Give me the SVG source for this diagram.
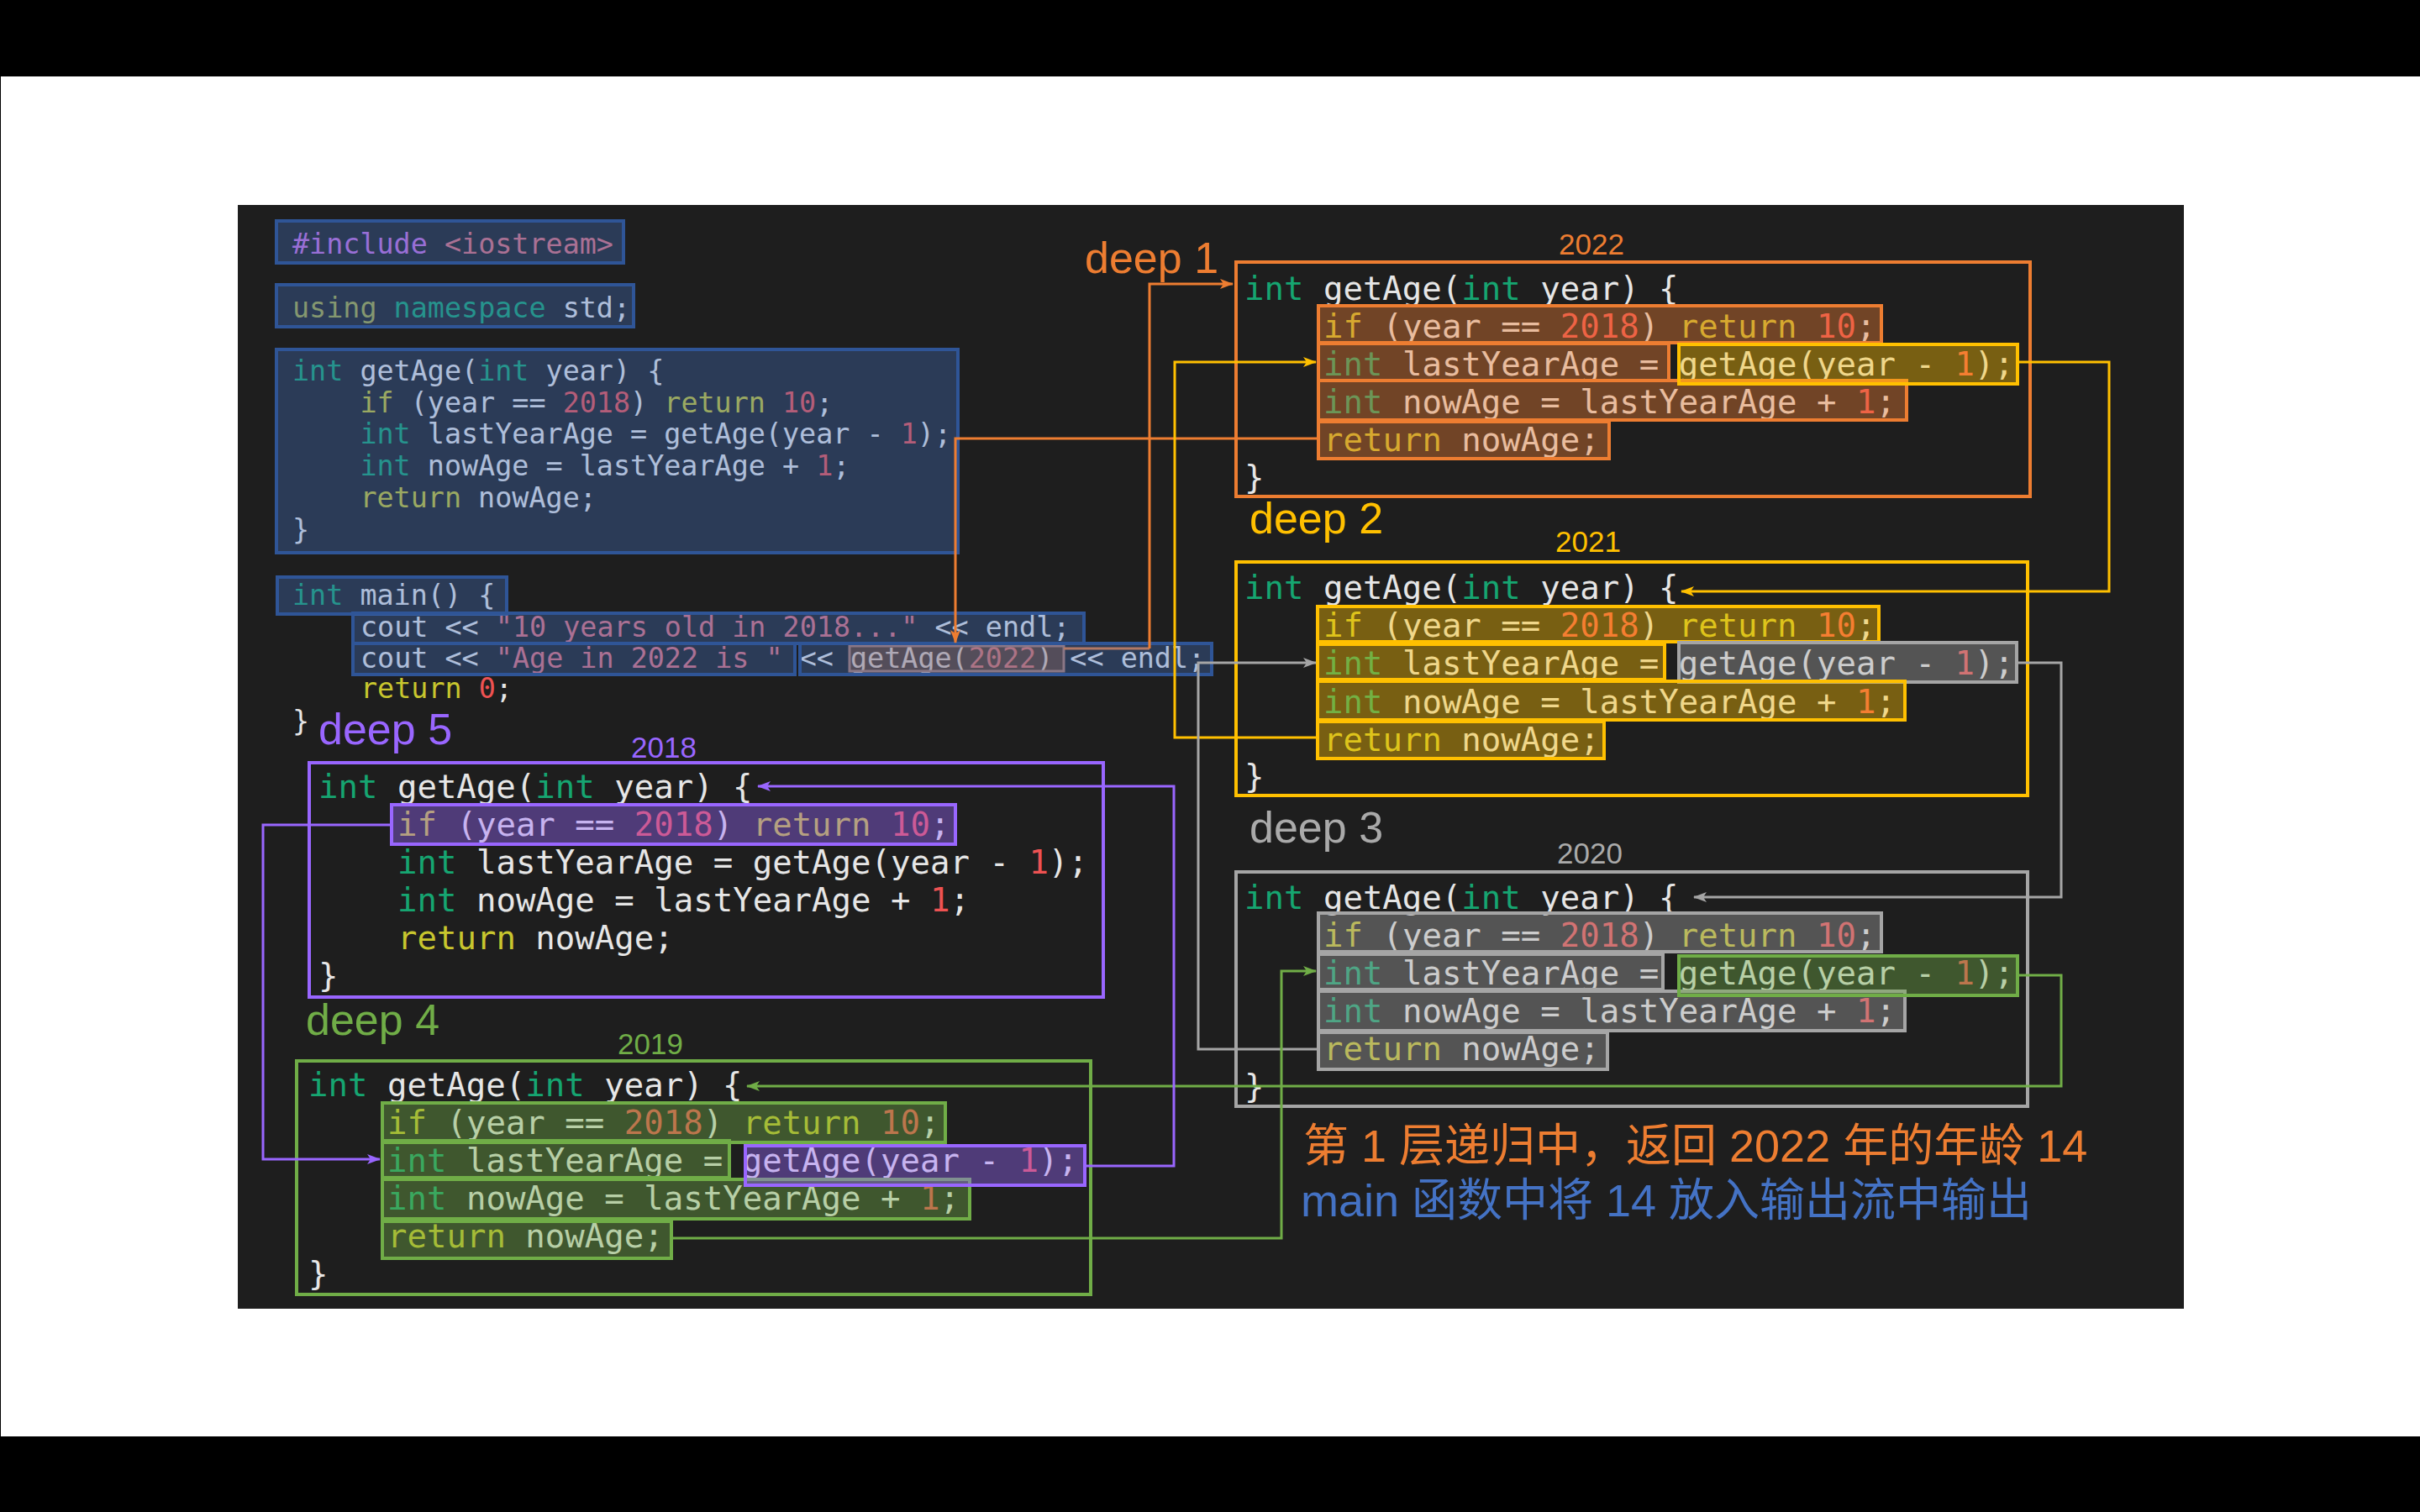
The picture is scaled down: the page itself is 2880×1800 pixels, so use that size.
<svg xmlns="http://www.w3.org/2000/svg" width="2880" height="1800" viewBox="0 0 2880 1800" xml:space="preserve">
<style>
.code{font-family:"DejaVu Sans Mono","Liberation Mono",monospace}
.m{font-size:33.4px}
.d{font-size:39px}
.k{fill:#16a571}
.i{fill:#e6e6e6}
.f{fill:#c8c62e}
.u{fill:#a6ab44}
.n{fill:#ee5252}
.s{fill:#e0707c}
.pp{fill:#c76ee0}
.lbl{font-family:"Liberation Sans",Arial,sans-serif;font-size:52px}
.yr{font-family:"Liberation Sans",Arial,sans-serif;font-size:35px}
.cn{font-family:"Liberation Sans","Noto Sans CJK SC",sans-serif;font-size:54px}
.ob{fill:none;stroke-width:4}
.hl{stroke-width:4}
.h-o{fill:rgba(237,125,49,.4);stroke:#ed7d31}
.h-y{fill:rgba(255,192,0,.4);stroke:#ffc000}
.h-g{fill:rgba(165,165,165,.4);stroke:#a5a5a5}
.h-gr{fill:rgba(112,173,71,.4);stroke:#70ad47}
.h-p{fill:rgba(153,102,255,.4);stroke:#9966ff}
.h-b{fill:rgba(68,114,196,.35);stroke:#2f5597}
.h-call{fill:rgba(237,125,49,.3);stroke:#b07a66;stroke-width:3}
.s-o{stroke:#ed7d31}.s-y{stroke:#ffc000}.s-g{stroke:#a5a5a5}.s-gr{stroke:#70ad47}.s-p{stroke:#9966ff}
.t-o{fill:#ed7d31}.t-y{fill:#ffc000}.t-g{fill:#aaaaaa}.t-gr{fill:#70ad47}.t-p{fill:#9966ff}.t-b{fill:#4472c4}
.conn path{fill:none;stroke-width:3}
</style>
<defs>
<marker id="ah-o" markerUnits="userSpaceOnUse" markerWidth="16" markerHeight="12" refX="15" refY="6" orient="auto"><path d="M0,0 L16,6 L0,12 L4,6 Z" fill="#ed7d31"/></marker>
<marker id="ah-y" markerUnits="userSpaceOnUse" markerWidth="16" markerHeight="12" refX="15" refY="6" orient="auto"><path d="M0,0 L16,6 L0,12 L4,6 Z" fill="#ffc000"/></marker>
<marker id="ah-g" markerUnits="userSpaceOnUse" markerWidth="16" markerHeight="12" refX="15" refY="6" orient="auto"><path d="M0,0 L16,6 L0,12 L4,6 Z" fill="#a5a5a5"/></marker>
<marker id="ah-gr" markerUnits="userSpaceOnUse" markerWidth="16" markerHeight="12" refX="15" refY="6" orient="auto"><path d="M0,0 L16,6 L0,12 L4,6 Z" fill="#70ad47"/></marker>
<marker id="ah-p" markerUnits="userSpaceOnUse" markerWidth="16" markerHeight="12" refX="15" refY="6" orient="auto"><path d="M0,0 L16,6 L0,12 L4,6 Z" fill="#9966ff"/></marker>
</defs>
<rect x="0" y="0" width="2880" height="1800" fill="#ffffff"/>
<rect x="0" y="0" width="2880" height="91" fill="#000000"/>
<rect x="0" y="1710" width="2880" height="90" fill="#000000"/>
<rect x="0" y="91" width="1" height="1619" fill="#000000"/>
<rect id="panel" x="283" y="244" width="2316" height="1314" fill="#1e1e1e"/>

<g id="main-code">
<text class="code m" x="348" y="302"><tspan class="pp">#include</tspan><tspan class="s"> &lt;iostream&gt;</tspan></text>
<text class="code m" x="348" y="378"><tspan class="u">using</tspan><tspan class="k"> namespace</tspan><tspan class="i"> std;</tspan></text>
<text class="code m" x="348" y="453"><tspan class="k">int</tspan><tspan class="i"> getAge(</tspan><tspan class="k">int</tspan><tspan class="i"> year) {</tspan></text>
<text class="code m" x="428.4" y="491"><tspan class="f">if</tspan><tspan class="i"> (year == </tspan><tspan class="n">2018</tspan><tspan class="i">) </tspan><tspan class="f">return</tspan><tspan class="i"> </tspan><tspan class="n">10</tspan><tspan class="i">;</tspan></text>
<text class="code m" x="428.4" y="528"><tspan class="k">int</tspan><tspan class="i"> lastYearAge = getAge(year - </tspan><tspan class="n">1</tspan><tspan class="i">);</tspan></text>
<text class="code m" x="428.4" y="566"><tspan class="k">int</tspan><tspan class="i"> nowAge = lastYearAge + </tspan><tspan class="n">1</tspan><tspan class="i">;</tspan></text>
<text class="code m" x="428.4" y="604"><tspan class="f">return</tspan><tspan class="i"> nowAge;</tspan></text>
<text class="code m i" x="348" y="642">}</text>
<text class="code m" x="348" y="720"><tspan class="k">int</tspan><tspan class="i"> main() {</tspan></text>
<text class="code m" x="429" y="758"><tspan class="i">cout &lt;&lt; </tspan><tspan class="s">"10 years old in 2018..."</tspan><tspan class="i"> &lt;&lt; endl;</tspan></text>
<text class="code m" x="429" y="795"><tspan class="i">cout &lt;&lt; </tspan><tspan class="s">"Age in 2022 is "</tspan><tspan class="i"> &lt;&lt; getAge(</tspan><tspan class="s">2022</tspan><tspan class="i">) &lt;&lt; endl;</tspan></text>
<text class="code m" x="429" y="831"><tspan class="f">return</tspan><tspan class="i"> </tspan><tspan class="n">0</tspan><tspan class="i">;</tspan></text>
<text class="code m i" x="348" y="870">}</text>
<rect class="hl h-b" x="329" y="263" width="413" height="50"/>
<rect class="hl h-b" x="329" y="339" width="425" height="50"/>
<rect class="hl h-b" x="329" y="416" width="811" height="242"/>
<rect class="hl h-b" x="330" y="687" width="273" height="44"/>
<rect class="hl h-b" x="420" y="730" width="870" height="36"/>
<rect class="hl h-call" x="1011" y="769" width="255" height="30"/>
<rect class="hl h-b" x="420" y="766" width="526" height="37"/>
<rect class="hl h-b" x="952" y="766" width="490" height="37"/>
</g>

<g id="deep1">
<text class="lbl t-o" x="1291" y="325">deep 1</text>
<text class="yr t-o" x="1855" y="303">2022</text>
<rect class="ob s-o" x="1471" y="312" width="945" height="279"/>
<text class="code d" x="1481" y="357"><tspan class="k">int</tspan><tspan class="i"> getAge(</tspan><tspan class="k">int</tspan><tspan class="i"> year) {</tspan></text>
<text class="code d" x="1575" y="402"><tspan class="f">if</tspan><tspan class="i"> (year == </tspan><tspan class="n">2018</tspan><tspan class="i">) </tspan><tspan class="f">return</tspan><tspan class="i"> </tspan><tspan class="n">10</tspan><tspan class="i">;</tspan></text>
<text class="code d" x="1575" y="447"><tspan class="k">int</tspan><tspan class="i"> lastYearAge = getAge(year - </tspan><tspan class="n">1</tspan><tspan class="i">);</tspan></text>
<text class="code d" x="1575" y="492"><tspan class="k">int</tspan><tspan class="i"> nowAge = lastYearAge + </tspan><tspan class="n">1</tspan><tspan class="i">;</tspan></text>
<text class="code d" x="1575" y="537"><tspan class="f">return</tspan><tspan class="i"> nowAge;</tspan></text>
<text class="code d i" x="1481" y="582">}</text>
<rect class="hl h-o" x="1569" y="364" width="670" height="44"/>
<rect class="hl h-o" x="1569" y="409" width="417" height="44"/>
<rect class="hl h-o" x="1569" y="453" width="700" height="47"/>
<rect class="hl h-o" x="1569" y="502" width="346" height="44"/>
<rect class="hl h-y" x="1998" y="410" width="403" height="47"/>
</g>

<g id="deep2">
<text class="lbl t-y" x="1487" y="635">deep 2</text>
<text class="yr t-y" x="1851" y="657">2021</text>
<rect class="ob s-y" x="1471" y="669" width="942" height="278"/>
<text class="code d" x="1481" y="713"><tspan class="k">int</tspan><tspan class="i"> getAge(</tspan><tspan class="k">int</tspan><tspan class="i"> year) {</tspan></text>
<text class="code d" x="1575" y="758"><tspan class="f">if</tspan><tspan class="i"> (year == </tspan><tspan class="n">2018</tspan><tspan class="i">) </tspan><tspan class="f">return</tspan><tspan class="i"> </tspan><tspan class="n">10</tspan><tspan class="i">;</tspan></text>
<text class="code d" x="1575" y="803"><tspan class="k">int</tspan><tspan class="i"> lastYearAge = getAge(year - </tspan><tspan class="n">1</tspan><tspan class="i">);</tspan></text>
<text class="code d" x="1575" y="849"><tspan class="k">int</tspan><tspan class="i"> nowAge = lastYearAge + </tspan><tspan class="n">1</tspan><tspan class="i">;</tspan></text>
<text class="code d" x="1575" y="894"><tspan class="f">return</tspan><tspan class="i"> nowAge;</tspan></text>
<text class="code d i" x="1481" y="938">}</text>
<rect class="hl h-y" x="1568" y="722" width="668" height="42"/>
<rect class="hl h-y" x="1568" y="767" width="413" height="42"/>
<rect class="hl h-g" x="1998" y="765" width="402" height="47"/>
<rect class="hl h-y" x="1568" y="811" width="699" height="46"/>
<rect class="hl h-y" x="1568" y="859" width="341" height="44"/>
</g>

<g id="deep3">
<text class="lbl t-g" x="1487" y="1003">deep 3</text>
<text class="yr t-g" x="1853" y="1028">2020</text>
<rect class="ob s-g" x="1471" y="1038" width="942" height="279"/>
<text class="code d" x="1481" y="1082"><tspan class="k">int</tspan><tspan class="i"> getAge(</tspan><tspan class="k">int</tspan><tspan class="i"> year) {</tspan></text>
<text class="code d" x="1575" y="1127"><tspan class="f">if</tspan><tspan class="i"> (year == </tspan><tspan class="n">2018</tspan><tspan class="i">) </tspan><tspan class="f">return</tspan><tspan class="i"> </tspan><tspan class="n">10</tspan><tspan class="i">;</tspan></text>
<text class="code d" x="1575" y="1172"><tspan class="k">int</tspan><tspan class="i"> lastYearAge = getAge(year - </tspan><tspan class="n">1</tspan><tspan class="i">);</tspan></text>
<text class="code d" x="1575" y="1217"><tspan class="k">int</tspan><tspan class="i"> nowAge = lastYearAge + </tspan><tspan class="n">1</tspan><tspan class="i">;</tspan></text>
<text class="code d" x="1575" y="1262"><tspan class="f">return</tspan><tspan class="i"> nowAge;</tspan></text>
<text class="code d i" x="1481" y="1307">}</text>
<rect class="hl h-g" x="1569" y="1087" width="670" height="46"/>
<rect class="hl h-g" x="1569" y="1136" width="410" height="42"/>
<rect class="hl h-g" x="1569" y="1180" width="698" height="47"/>
<rect class="hl h-g" x="1569" y="1229" width="344" height="44"/>
<rect class="hl h-gr" x="1998" y="1138" width="403" height="47"/>
</g>

<g id="deep5">
<text class="lbl t-p" x="379" y="886">deep 5</text>
<text class="yr t-p" x="751" y="902">2018</text>
<rect class="ob s-p" x="368" y="908" width="945" height="279"/>
<text class="code d" x="379" y="950"><tspan class="k">int</tspan><tspan class="i"> getAge(</tspan><tspan class="k">int</tspan><tspan class="i"> year) {</tspan></text>
<text class="code d" x="473" y="995"><tspan class="f">if</tspan><tspan class="i"> (year == </tspan><tspan class="n">2018</tspan><tspan class="i">) </tspan><tspan class="f">return</tspan><tspan class="i"> </tspan><tspan class="n">10</tspan><tspan class="i">;</tspan></text>
<text class="code d" x="473" y="1040"><tspan class="k">int</tspan><tspan class="i"> lastYearAge = getAge(year - </tspan><tspan class="n">1</tspan><tspan class="i">);</tspan></text>
<text class="code d" x="473" y="1085"><tspan class="k">int</tspan><tspan class="i"> nowAge = lastYearAge + </tspan><tspan class="n">1</tspan><tspan class="i">;</tspan></text>
<text class="code d" x="473" y="1130"><tspan class="f">return</tspan><tspan class="i"> nowAge;</tspan></text>
<text class="code d i" x="379" y="1175">}</text>
<rect class="hl h-p" x="466" y="958" width="671" height="47"/>
</g>

<g id="deep4">
<text class="lbl t-gr" x="364" y="1232">deep 4</text>
<text class="yr t-gr" x="735" y="1255">2019</text>
<rect class="ob s-gr" x="353" y="1263" width="945" height="278"/>
<text class="code d" x="367" y="1305"><tspan class="k">int</tspan><tspan class="i"> getAge(</tspan><tspan class="k">int</tspan><tspan class="i"> year) {</tspan></text>
<text class="code d" x="461" y="1350"><tspan class="f">if</tspan><tspan class="i"> (year == </tspan><tspan class="n">2018</tspan><tspan class="i">) </tspan><tspan class="f">return</tspan><tspan class="i"> </tspan><tspan class="n">10</tspan><tspan class="i">;</tspan></text>
<text class="code d" x="461" y="1395"><tspan class="k">int</tspan><tspan class="i"> lastYearAge = getAge(year - </tspan><tspan class="n">1</tspan><tspan class="i">);</tspan></text>
<text class="code d" x="461" y="1440"><tspan class="k">int</tspan><tspan class="i"> nowAge = lastYearAge + </tspan><tspan class="n">1</tspan><tspan class="i">;</tspan></text>
<text class="code d" x="461" y="1485"><tspan class="f">return</tspan><tspan class="i"> nowAge;</tspan></text>
<text class="code d i" x="367" y="1530">}</text>
<rect class="hl h-gr" x="455" y="1313" width="670" height="47"/>
<rect class="hl h-gr" x="455" y="1358" width="413" height="44"/>
<rect class="hl h-gr" x="455" y="1404" width="699" height="47"/>
<rect class="hl h-gr" x="455" y="1454" width="344" height="44"/>
<rect class="hl h-p" x="887" y="1364" width="404" height="47"/>
</g>

<g id="note">
<text class="cn t-o" x="1551" y="1383">第 1 层递归中，返回 2022 年的年龄 14</text>
<text class="cn t-b" x="1548" y="1448">main 函数中将 14 放入输出流中输出</text>
</g>

<g id="connectors" class="conn">
<path d="M1266,772 H1368" stroke="#b27966"/>
<path class="s-o" d="M1368,772 V338 H1467" marker-end="url(#ah-o)"/>
<path class="s-o" d="M1569,522 H1137 V765" marker-end="url(#ah-o)"/>
<path class="s-y" d="M2401,431 H2510 V704 H2001" marker-end="url(#ah-y)"/>
<path class="s-y" d="M1568,878 H1398 V431 H1566" marker-end="url(#ah-y)"/>
<path class="s-g" d="M2401,789 H2453 V1068 H2016" marker-end="url(#ah-g)"/>
<path class="s-g" d="M1569,1249 H1426 V789 H1566" marker-end="url(#ah-g)"/>
<path class="s-gr" d="M2401,1161 H2453 V1293 H889" marker-end="url(#ah-gr)"/>
<path class="s-gr" d="M799,1474 H1525 V1156 H1566" marker-end="url(#ah-gr)"/>
<path class="s-p" d="M1291,1388 H1397 V936 H902" marker-end="url(#ah-p)"/>
<path class="s-p" d="M466,982 H313 V1380 H452" marker-end="url(#ah-p)"/>
</g>
</svg>
